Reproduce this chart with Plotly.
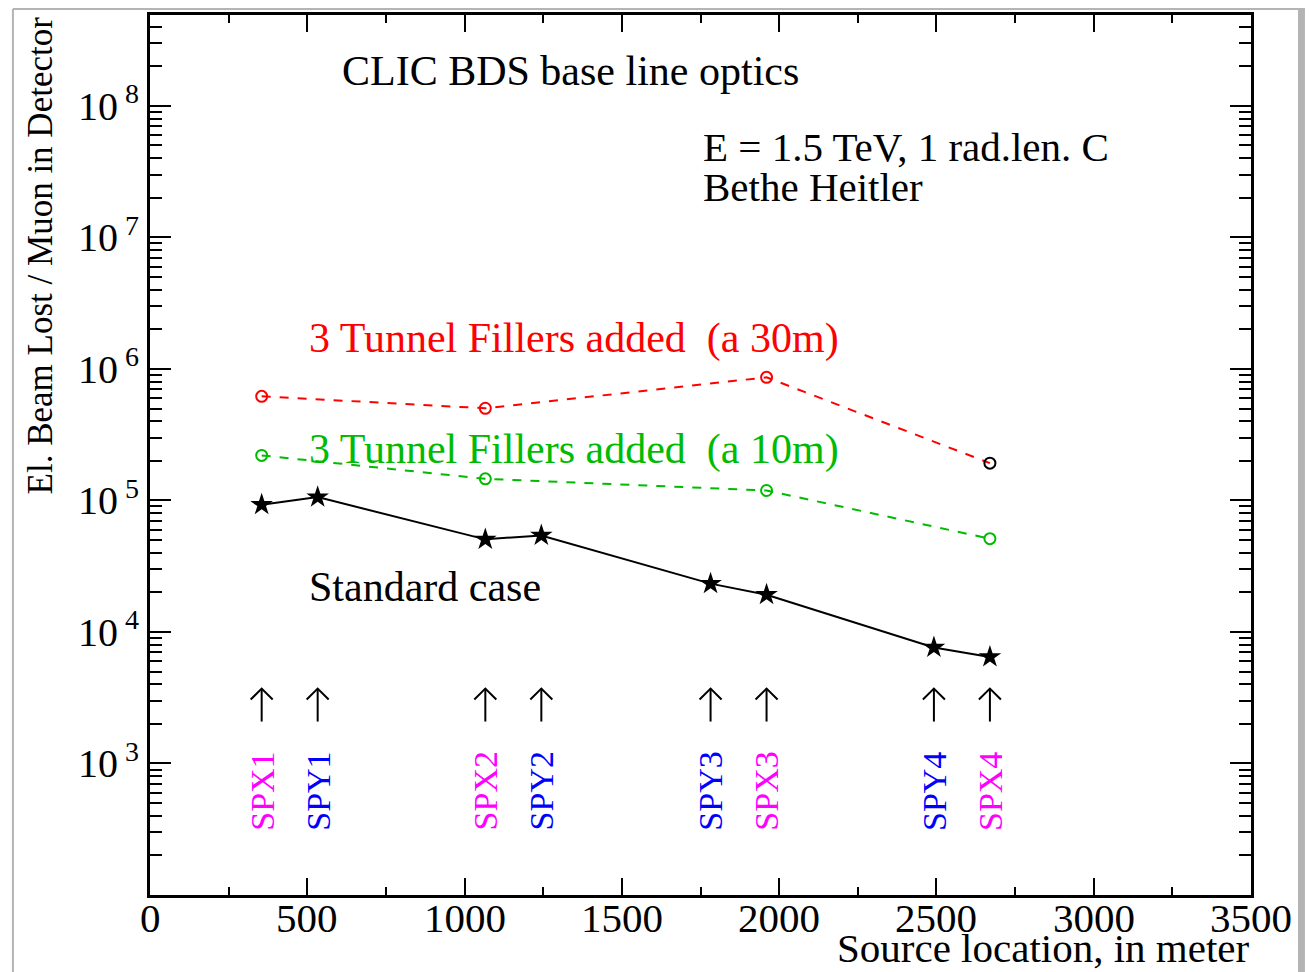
import plotly.graph_objects as go

# Source locations (m) of the spoilers and measured losses per muon
std_x = [355, 533, 1066, 1244, 1782, 1960, 2492, 2670]
std_y = [9.28e4, 1.06e5, 5.06e4, 5.42e4, 2.33e4, 1.92e4, 7.62e3, 6.46e3]

fill_x = [355, 1066, 1960, 2670]
fill30_y = [6.19e5, 5.02e5, 8.63e5, 1.92e5]
fill10_y = [2.20e5, 1.46e5, 1.19e5, 5.12e4]

spoiler_names = ["SPX1", "SPY1", "SPX2", "SPY2", "SPY3", "SPX3", "SPY4", "SPX4"]
spoiler_x = [355, 533, 1066, 1244, 1782, 1960, 2492, 2670]

xtick_vals = [0, 500, 1000, 1500, 2000, 2500, 3000, 3500]
ytick_vals = [1e3, 1e4, 1e5, 1e6, 1e7, 1e8]
ytick_text = ["10<sup> 3</sup>", "10<sup> 4</sup>", "10<sup> 5</sup>",
              "10<sup> 6</sup>", "10<sup> 7</sup>", "10<sup> 8</sup>"]

SERIF = "Liberation Serif"
RED = "#ff0000"
GREEN = "#00bb00"
MAGENTA = "#ff00ff"
BLUE = "#0000ff"
TXT = 42

fig = go.Figure()

fig.add_trace(go.Scatter(
    x=fill_x, y=fill30_y, mode="lines+markers",
    line=dict(color=RED, width=2, dash="dash"),
    marker=dict(symbol="circle-open", size=11, color=[RED, RED, RED, "black"],
                line=dict(width=2, color=[RED, RED, RED, "black"])),
    showlegend=False))

fig.add_trace(go.Scatter(
    x=fill_x, y=fill10_y, mode="lines+markers",
    line=dict(color=GREEN, width=2, dash="dash"),
    marker=dict(symbol="circle-open", size=11, color=GREEN, line=dict(width=2, color=GREEN)),
    showlegend=False))

fig.add_trace(go.Scatter(
    x=std_x, y=std_y, mode="lines+markers",
    line=dict(color="black", width=2),
    marker=dict(symbol="star", size=17, color="black"),
    showlegend=False))

# Upward arrows pointing at each spoiler location (shaft + open V head)
ARROW_TAIL, ARROW_TIP, HEAD_BASE = 10 ** 3.319, 10 ** 3.569, 10 ** 3.486
HEAD_HALF = 35  # half width of the arrow head, in metres
ax_pts, ay_pts = [], []
for sx in spoiler_x:
    ax_pts += [sx, sx, None, sx - HEAD_HALF, sx, sx + HEAD_HALF, None]
    ay_pts += [ARROW_TAIL, ARROW_TIP, None, HEAD_BASE, ARROW_TIP, HEAD_BASE, None]
fig.add_trace(go.Scatter(x=ax_pts, y=ay_pts, mode="lines",
                         line=dict(color="black", width=2), showlegend=False,
                         hoverinfo="skip"))

annotations = []


def note(text, x, y, color="black", size=TXT, xanchor="left", xref="x", yref="y"):
    annotations.append(dict(x=x, y=y, xref=xref, yref=yref, text=text, showarrow=False,
                            xanchor=xanchor, yanchor="middle",
                            font=dict(family=SERIF, size=size, color=color)))


note("CLIC BDS base line optics", 604, 8.266)
note("E = 1.5 TeV, 1 rad.len. C", 1750, 7.69, size=41)
note("Bethe Heitler", 1750, 7.38, size=41)
note("3 Tunnel Fillers added \u00a0(a 30m)", 500, 6.235, color=RED)
note("3 Tunnel Fillers added \u00a0(a 10m)", 500, 5.387, color=GREEN)
note("Standard case", 500, 4.34)

# Rotated spoiler names
for name, sx in zip(spoiler_names, spoiler_x):
    annotations.append(dict(x=sx, y=2.79, xref="x", yref="y", text=name, showarrow=False,
                            textangle=-90, xanchor="center", yanchor="middle",
                            font=dict(family=SERIF, size=34,
                                      color=MAGENTA if name.startswith("SPX") else BLUE)))

# x tick labels, set close under the axis
for v in xtick_vals:
    note(str(v), v, -0.026, size=41, xanchor="center", yref="paper")

# Axis titles
annotations.append(dict(x=-0.0999, y=0.7268, xref="paper", yref="paper",
                        text="El. Beam Lost / Muon in Detector", showarrow=False,
                        textangle=-90, xanchor="center", yanchor="middle",
                        font=dict(family=SERIF, size=35, color="black")))
annotations.append(dict(x=1.0, y=-0.0605, xref="paper", yref="paper",
                        text="Source location, in meter", showarrow=False,
                        xanchor="right", yanchor="middle",
                        font=dict(family=SERIF, size=41, color="black")))

minor_vals = [m * 10 ** e for e in range(2, 9) for m in range(2, 10)]

fig.update_layout(
    width=1310, height=972,
    margin=dict(l=150, r=59, t=13, b=77),
    paper_bgcolor="white", plot_bgcolor="white",
    annotations=annotations,
    shapes=[
        dict(type="line", xref="paper", yref="paper", x0=-0.1245, x1=1.0490,
             y0=1.0068, y1=1.0068, line=dict(color="#b4b4b4", width=2)),
        dict(type="line", xref="paper", yref="paper", x0=-0.1245, x1=-0.1245,
             y0=1.0068, y1=-0.09, line=dict(color="#b4b4b4", width=2)),
        dict(type="rect", xref="paper", yref="paper", x0=1.0427, x1=1.0490,
             y0=1.0068, y1=-0.09, fillcolor="#b4b4b4", line=dict(width=0)),
    ],
)

fig.update_xaxes(
    range=[0, 3500], tickmode="array", tickvals=xtick_vals, showticklabels=False,
    ticks="inside", ticklen=17, tickwidth=2, tickcolor="black",
    minor=dict(tickmode="array", tickvals=[250, 750, 1250, 1750, 2250, 2750, 3250],
               ticks="inside", ticklen=8, tickwidth=2, tickcolor="black"),
    showline=True, linecolor="black", linewidth=3, mirror="allticks",
    showgrid=False, zeroline=False,
)

fig.update_yaxes(
    type="log", range=[2.0, 8.691], tickmode="array", tickvals=ytick_vals, ticktext=ytick_text,
    ticks="inside", ticklen=21, tickwidth=2, tickcolor="black",
    minor=dict(tickmode="array", tickvals=minor_vals, ticks="inside", ticklen=12,
               tickwidth=2, tickcolor="black"),
    showline=True, linecolor="black", linewidth=3, mirror="allticks",
    showgrid=False, zeroline=False,
    tickfont=dict(family=SERIF, size=40, color="black"),
)

fig.write_html("out.html")
